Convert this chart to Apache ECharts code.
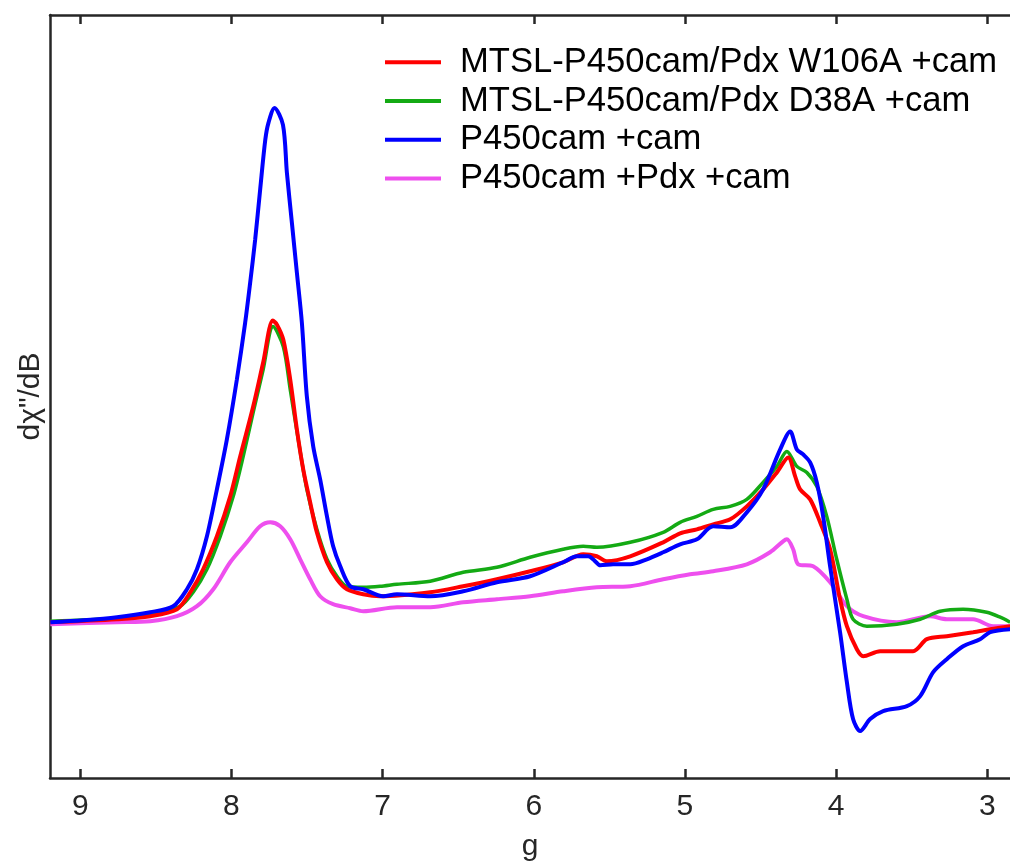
<!DOCTYPE html>
<html>
<head>
<meta charset="utf-8">
<script src="https://cdn.jsdelivr.net/npm/echarts@6/dist/echarts.min.js"></script>
<style>
html,body{margin:0;padding:0;background:#fff;}
#chart{width:1010px;height:867px;}
</style>
</head>
<body>
<div id="chart"></div>
<script>
// g-value ticks
const gTicks = [3, 4, 5, 6, 7, 8, 9];

const seriesNames = [
  'MTSL-P450cam/Pdx W106A +cam',
  'MTSL-P450cam/Pdx D38A +cam',
  'P450cam +cam',
  'P450cam +Pdx +cam'
];

// MTSL-P450cam/Pdx W106A +cam (red)
const redG = [9.198,8.757,8.537,8.360,8.272,8.187,8.096,8.008,7.942,7.856,7.790,7.726,7.699,7.657,7.611,7.567,7.525,7.479,7.435,7.368,7.302,7.236,7.128,7.016,6.685,6.467,6.244,6.024,5.806,5.673,5.583,5.517,5.362,5.144,5.032,4.921,4.813,4.701,4.591,4.483,4.392,4.317,4.271,4.238,4.172,4.106,4.040,3.974,3.929,3.863,3.821,3.709,3.491,3.400,3.268,3.094,2.981,2.849];
const redI = [0.0,0.3,0.6,1.3,3.0,5.3,8.6,12.6,16.6,21.6,26.0,30.2,29.8,28.3,24.3,19.3,15.3,12.0,9.0,6.0,4.3,3.3,2.8,2.6,3.0,3.6,4.3,5.1,6.0,6.8,6.6,6.1,6.6,8.0,8.9,9.3,9.8,10.3,11.6,13.3,15.0,16.5,14.6,13.3,12.3,10.0,7.3,2.3,-0.4,-2.7,-3.4,-2.9,-2.9,-1.7,-1.4,-1.0,-0.7,-0.4];

// MTSL-P450cam/Pdx D38A +cam (green)
const greenG = [9.198,8.757,8.537,8.339,8.253,8.162,8.074,7.988,7.922,7.856,7.790,7.724,7.657,7.611,7.558,7.501,7.435,7.368,7.302,7.236,7.128,7.016,6.905,6.685,6.467,6.244,6.024,5.806,5.673,5.583,5.362,5.144,5.032,4.921,4.813,4.701,4.591,4.483,4.392,4.326,4.260,4.194,4.128,4.062,3.996,3.929,3.888,3.797,3.599,3.444,3.312,3.160,3.004,2.915,2.849];
const greenI = [0.1,0.4,0.8,1.6,3.0,5.3,8.6,12.6,16.6,21.0,25.3,29.6,27.6,23.3,18.3,13.3,9.3,6.3,4.6,3.6,3.5,3.6,3.8,4.1,5.0,5.5,6.5,7.3,7.6,7.5,8.0,9.0,10.0,10.6,11.3,11.6,12.3,14.0,15.6,17.1,15.6,15.0,13.6,10.6,6.3,2.3,0.3,-0.4,-0.2,0.3,1.1,1.3,1.0,0.5,0.0];

// P450cam +cam (blue)
const blueG = [9.198,8.980,8.757,8.537,8.385,8.294,8.228,8.162,8.096,8.030,7.964,7.909,7.876,7.843,7.810,7.776,7.755,7.715,7.659,7.633,7.600,7.567,7.534,7.501,7.459,7.413,7.368,7.327,7.280,7.214,7.128,6.996,6.905,6.685,6.467,6.244,6.024,5.806,5.715,5.640,5.600,5.560,5.475,5.362,5.252,5.144,5.032,4.921,4.813,4.701,4.591,4.483,4.370,4.304,4.260,4.218,4.172,4.128,4.086,4.040,3.974,3.929,3.888,3.841,3.775,3.689,3.532,3.444,3.358,3.268,3.160,3.048,2.981,2.849];
const blueI = [0.0,0.2,0.5,1.0,1.6,3.3,5.3,8.6,13.3,18.3,24.3,30.0,34.0,38.3,43.3,48.3,50.0,51.5,49.8,45.0,40.0,35.0,30.0,22.6,17.6,14.3,10.6,7.6,5.6,3.6,3.3,2.6,2.8,2.6,3.1,4.0,4.6,6.0,6.6,6.6,6.2,5.7,5.8,5.8,6.3,7.0,7.8,8.3,9.6,9.5,11.0,13.3,17.3,19.1,17.3,16.8,16.0,14.0,10.6,5.6,-1.0,-6.0,-9.7,-10.9,-9.7,-8.9,-8.4,-7.4,-5.0,-3.7,-2.4,-1.7,-1.0,-0.7];

// P450cam +Pdx +cam (magenta)
const magentaG = [9.198,8.757,8.537,8.360,8.228,8.120,8.008,7.898,7.810,7.743,7.677,7.611,7.545,7.479,7.413,7.327,7.214,7.128,6.905,6.685,6.467,6.244,6.024,5.806,5.583,5.362,5.144,4.966,4.813,4.591,4.437,4.351,4.326,4.284,4.251,4.152,4.040,3.929,3.821,3.599,3.378,3.268,3.094,2.962,2.849];
const magentaI = [-0.2,0.0,0.1,0.6,1.6,3.3,6.0,8.0,9.6,10.0,9.6,8.3,6.3,4.3,2.6,1.8,1.4,1.1,1.5,1.5,2.0,2.3,2.6,3.1,3.5,3.6,4.3,4.8,5.1,5.8,7.0,8.1,8.3,7.3,5.8,5.6,4.0,1.6,0.6,0.0,0.6,0.3,0.3,-0.4,-0.4];

const colors = ['#ff0000', '#14aa14', '#0000ff', '#ee4fee'];
const widths = [4, 3.5, 4, 4];

function zip(a, b) { return a.map((v, i) => [v, b[i]]); }
const allData = [zip(redG, redI), zip(greenG, greenI), zip(blueG, blueI), zip(magentaG, magentaI)];

const axisColor = '#262626';
const font = 'Liberation Sans, Arial, sans-serif';

const chart = echarts.init(document.getElementById('chart'), null, {renderer: 'canvas'});

const xCommon = {
  type: 'value',
  min: 2.85,
  max: 9.2,
  inverse: true,
  splitLine: {show: false},
  axisLine: {show: true, onZero: false, lineStyle: {color: axisColor, width: 2.5}},
  axisTick: {show: true, inside: true, length: 9, customValues: gTicks, lineStyle: {color: axisColor, width: 2.5}},
};

chart.setOption({
  animation: false,
  backgroundColor: '#fff',
  grid: {left: 50, right: 0, top: 15, bottom: 88, containLabel: false},
  legend: {
    orient: 'vertical',
    left: 380,
    top: 38,
    itemWidth: 56,
    itemHeight: 4,
    itemGap: 0,
    icon: 'rect',
    data: seriesNames.map((n, i) => ({name: n, itemStyle: {color: colors[i]}})),
    textStyle: {fontFamily: font, fontSize: 34.6, color: '#000', padding: [0, 0, 0, 14], lineHeight: 38.7}
  },
  xAxis: [
    Object.assign({}, xCommon, {
      position: 'bottom',
      name: 'g',
      nameLocation: 'middle',
      nameGap: 54,
      nameTextStyle: {fontFamily: font, fontSize: 30, color: axisColor},
      axisLabel: {show: true, customValues: gTicks, fontFamily: font, fontSize: 30, color: axisColor, margin: 14}
    }),
    Object.assign({}, xCommon, {
      position: 'top',
      axisLabel: {show: false}
    })
  ],
  yAxis: {
    type: 'value',
    min: -15.6,
    max: 60.8,
    splitLine: {show: false},
    axisLine: {show: true, lineStyle: {color: axisColor, width: 2.5}},
    axisTick: {show: false},
    axisLabel: {show: false},
    name: 'dχ"/dB',
    nameLocation: 'middle',
    nameGap: 4,
    nameTextStyle: {fontFamily: font, fontSize: 30, color: axisColor}
  },
  series: seriesNames.map((name, i) => ({
    name: name,
    type: 'line',
    data: allData[i],
    xAxisIndex: 0,
    symbol: 'none',
    smooth: 0.3,
    color: colors[i],
    lineStyle: {color: colors[i], width: widths[i]},
    z: [3, 2, 4, 1][i]
  }))
});
</script>
</body>
</html>
